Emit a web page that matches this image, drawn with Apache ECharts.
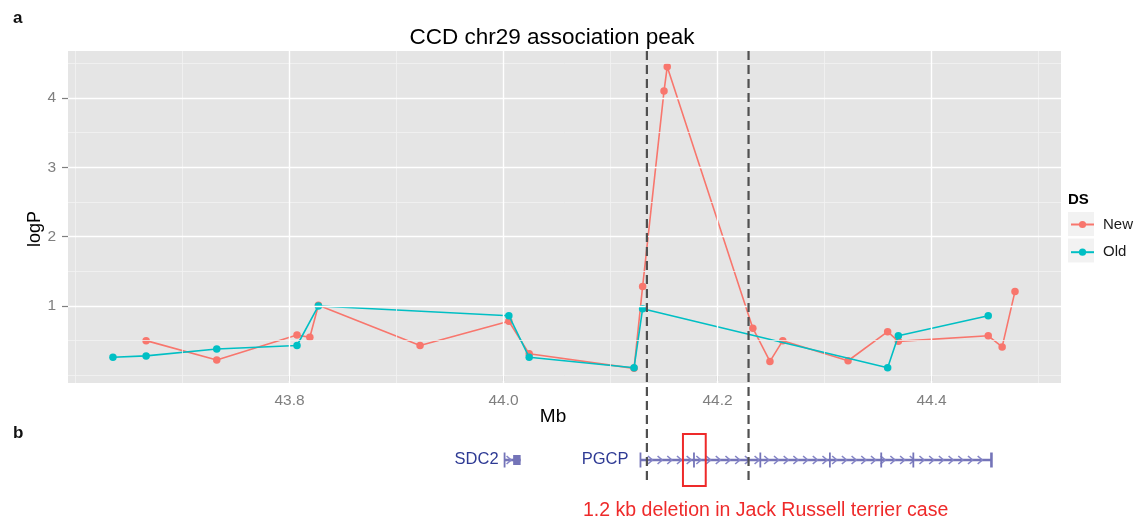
<!DOCTYPE html>
<html>
<head>
<meta charset="utf-8">
<script src="https://cdn.jsdelivr.net/npm/echarts@6/dist/echarts.min.js"></script>
<style>
  html, body { margin: 0; padding: 0; background: #fff; }
  #chart { width: 1147px; height: 524px; }
</style>
</head>
<body>
<div id="chart"></div>
<script>
// values (Mb position, -log10 P)
const newMb = [43.666, 43.732, 43.807, 43.819, 43.827, 43.922, 44.005, 44.024, 44.122, 44.130, 44.150,
               44.153, 44.233, 44.249, 44.261, 44.322, 44.359, 44.369, 44.453, 44.466, 44.478];
const newLogP = [0.50, 0.22, 0.58, 0.55, 1.01, 0.43, 0.78, 0.31, 0.10, 1.28, 4.10,
                 4.45, 0.68, 0.20, 0.50, 0.21, 0.63, 0.49, 0.57, 0.41, 1.21];
const oldMb = [43.635, 43.666, 43.732, 43.807, 43.827, 44.005, 44.024, 44.122, 44.130, 44.359, 44.369, 44.453];
const oldLogP = [0.26, 0.28, 0.38, 0.43, 1.00, 0.86, 0.26, 0.11, 0.96, 0.11, 0.57, 0.86];

const xMajor = [43.8, 44.0, 44.2, 44.4];
const xMinor = [43.6, 43.7, 43.9, 44.1, 44.3, 44.5];
const yMajor = [1, 2, 3, 4];
const yMinor = [0, 0.5, 1.5, 2.5, 3.5, 4.5];

// peak boundaries (dashed) and the deletion box
const peakBounds = [44.134, 44.229];
const deletion = [44.1677, 44.189];

// gene models for panel b
const genes = [
    {name: 'SDC2', start: 44.001, end: 44.016, exons: [44.001], blocks: [[44.009, 44.016]], labelGap: 6},
    {name: 'PGCP', start: 44.128, end: 44.456,
     exons: [44.128, 44.178, 44.240, 44.305, 44.353, 44.383, 44.456], blocks: [], labelGap: 12}
];

const X_MIN = 43.593, X_MAX = 44.521;
const Y_MIN = -0.111, Y_MAX = 4.678;
const FONT = '"Liberation Sans", Arial, sans-serif';
const RED = '#F8766D', TEAL = '#00BFC4';
const GENE = '#7474b8';
const GENE_LEVEL = 0.5;

function pairs(xs, ys) {
    return xs.map((x, i) => [x, ys[i]]);
}

function chevron(cx, cy) {
    return {
        type: 'polyline',
        shape: {points: [[cx - 2.3, cy - 4], [cx + 2.3, cy], [cx - 2.3, cy + 4]]},
        style: {stroke: '#8484c6', lineWidth: 1.6, fill: null}
    };
}

function renderGene(params, api) {
    const g = genes[params.dataIndex];
    const px = v => api.coord([v, GENE_LEVEL])[0];
    const y = api.coord([g.start, GENE_LEVEL])[1];
    const x0 = px(g.start), x1 = px(g.end);
    const children = [];
    children.push({type: 'line', shape: {x1: x0, y1: y, x2: x1, y2: y}, style: {stroke: GENE, lineWidth: 2.6}});
    // strand arrows
    const stop = g.blocks.length ? px(g.blocks[0][0]) : x1;
    let cx = x0 + 9.7, n = 0;
    while (cx < stop - 5) {
        children.push(chevron(cx, y));
        cx += 9.7;
        n++;
    }
    if (!n) children.push(chevron((x0 + stop) / 2, y));
    g.exons.forEach((e, i) => {
        children.push({
            type: 'line',
            shape: {x1: px(e), y1: y - 7.5, x2: px(e), y2: y + 7.5},
            style: {stroke: GENE, lineWidth: i === g.exons.length - 1 && g.exons.length > 1 ? 2.6 : 1.8}
        });
    });
    g.blocks.forEach(b => {
        children.push({
            type: 'rect',
            shape: {x: px(b[0]), y: y - 5, width: px(b[1]) - px(b[0]), height: 10},
            style: {fill: GENE}
        });
    });
    children.push({
        type: 'text',
        style: {
            text: g.name, x: x0 - g.labelGap, y: y - 1, align: 'right', verticalAlign: 'middle',
            fill: '#2e3a94', fontSize: 16.5, fontFamily: FONT
        }
    });
    return {type: 'group', children: children};
}

function renderDeletion(params, api) {
    const a = api.coord([api.value(0), GENE_LEVEL]);
    const b = api.coord([api.value(1), GENE_LEVEL]);
    return {
        type: 'rect',
        shape: {x: a[0], y: a[1] - 26, width: b[0] - a[0], height: 52},
        style: {stroke: '#ee2a2a', lineWidth: 2, fill: null}
    };
}

const gridLines = [].concat(
    xMinor.map(v => ({xAxis: v, lineStyle: {color: '#f2f2f2', width: 0.8, type: 'solid'}})),
    yMinor.map(v => ({yAxis: v, lineStyle: {color: '#f2f2f2', width: 0.8, type: 'solid'}})),
    xMajor.map(v => ({xAxis: v, lineStyle: {color: '#ffffff', width: 1.4, type: 'solid'}})),
    yMajor.map(v => ({yAxis: v, lineStyle: {color: '#ffffff', width: 1.4, type: 'solid'}}))
);

const axisTickStyle = {show: true, length: 6, lineStyle: {color: '#7f7f7f', width: 1.2}};

const chart = echarts.init(document.getElementById('chart'));
const option = {
    animation: false,
    backgroundColor: '#fff',
    grid: [
        {left: 68, right: 86, top: 51, bottom: 141, show: true, backgroundColor: '#e5e5e5', borderWidth: 0},
        {left: 68, right: 86, top: 51, bottom: 44},
        {left: 68, right: 86, top: 430, height: 60}
    ],
    xAxis: [
        {
            type: 'value', gridIndex: 0, min: X_MIN, max: X_MAX,
            axisLine: {show: false},
            axisTick: Object.assign({customValues: xMajor}, axisTickStyle),
            axisLabel: {
                customValues: xMajor, color: '#7f7f7f', fontSize: 15.5, fontFamily: FONT, margin: 10,
                formatter: v => v.toFixed(1)
            },
            splitLine: {show: false}
        },
        {type: 'value', gridIndex: 1, min: X_MIN, max: X_MAX, show: false},
        {type: 'value', gridIndex: 2, min: X_MIN, max: X_MAX, show: false}
    ],
    yAxis: [
        {
            type: 'value', gridIndex: 0, min: Y_MIN, max: Y_MAX,
            axisLine: {show: false},
            axisTick: Object.assign({customValues: yMajor}, axisTickStyle),
            axisLabel: {customValues: yMajor, color: '#7f7f7f', fontSize: 15.5, fontFamily: FONT, margin: 12},
            splitLine: {show: false}
        },
        {type: 'value', gridIndex: 1, min: 0, max: 1, show: false},
        {type: 'value', gridIndex: 2, min: 0, max: 1, show: false}
    ],
    legend: {
        data: ['New', 'Old'],
        orient: 'vertical', left: 1070, top: 217, padding: 0,
        itemWidth: 23, itemHeight: 9, itemGap: 12.7,
        selectedMode: false,
        textStyle: {fontSize: 15, fontFamily: FONT, color: '#1a1a1a', padding: [0, 0, 0, 4]}
    },
    graphic: [
        {type: 'text', x: 13, y: 18, style: {text: 'a', fontSize: 17, fontWeight: 'bold', fontFamily: FONT, fill: '#111', verticalAlign: 'middle'}},
        {type: 'text', x: 13, y: 433, style: {text: 'b', fontSize: 17, fontWeight: 'bold', fontFamily: FONT, fill: '#111', verticalAlign: 'middle'}},
        {type: 'text', x: 552, y: 38, style: {text: 'CCD chr29 association peak', fontSize: 22.5, fontFamily: FONT, fill: '#000', align: 'center', verticalAlign: 'middle'}},
        {type: 'text', x: 553, y: 417, style: {text: 'Mb', fontSize: 19, fontFamily: FONT, fill: '#000', align: 'center', verticalAlign: 'middle'}},
        {type: 'text', x: 35, y: 229, rotation: Math.PI / 2, style: {text: 'logP', fontSize: 18, fontFamily: FONT, fill: '#000', align: 'center', verticalAlign: 'middle'}},
        {type: 'text', x: 1068, y: 200, style: {text: 'DS', fontSize: 15, fontWeight: 'bold', fontFamily: FONT, fill: '#000', verticalAlign: 'middle'}},
        {type: 'rect', shape: {x: 1068, y: 212, width: 26, height: 24}, style: {fill: '#f2f2f2'}},
        {type: 'rect', shape: {x: 1068, y: 238.5, width: 26, height: 24}, style: {fill: '#f2f2f2'}},
        {type: 'text', x: 583, y: 511, style: {text: '1.2 kb deletion in Jack Russell terrier case', fontSize: 19.5, fontFamily: FONT, fill: '#ee2a2a', verticalAlign: 'middle'}}
    ],
    series: [
        {
            type: 'line', xAxisIndex: 0, yAxisIndex: 0, data: [], z: 1, silent: true,
            markLine: {silent: true, symbol: ['none', 'none'], label: {show: false}, animation: false, data: gridLines}
        },
        {
            name: 'New', type: 'line', xAxisIndex: 0, yAxisIndex: 0, data: pairs(newMb, newLogP),
            symbol: 'circle', symbolSize: 7.5, z: 3,
            itemStyle: {color: RED}, lineStyle: {color: RED, width: 1.6}
        },
        {
            name: 'Old', type: 'line', xAxisIndex: 0, yAxisIndex: 0, data: pairs(oldMb, oldLogP),
            symbol: 'circle', symbolSize: 7.5, z: 4,
            itemStyle: {color: TEAL}, lineStyle: {color: TEAL, width: 1.6}
        }
    ].concat(peakBounds.map(x => ({
        type: 'line', xAxisIndex: 1, yAxisIndex: 1, data: [[x, 0], [x, 1]],
        symbol: 'none', silent: true, z: 10,
        lineStyle: {color: '#505050', width: 2.2, type: [9, 5]}
    }))).concat([
        {
            type: 'custom', xAxisIndex: 2, yAxisIndex: 2, silent: true, z: 5,
            data: genes.map(g => [g.start, g.end]),
            renderItem: renderGene
        },
        {
            type: 'custom', xAxisIndex: 2, yAxisIndex: 2, silent: true, z: 6,
            data: [deletion],
            renderItem: renderDeletion
        }
    ])
};
chart.setOption(option);
</script>
</body>
</html>
